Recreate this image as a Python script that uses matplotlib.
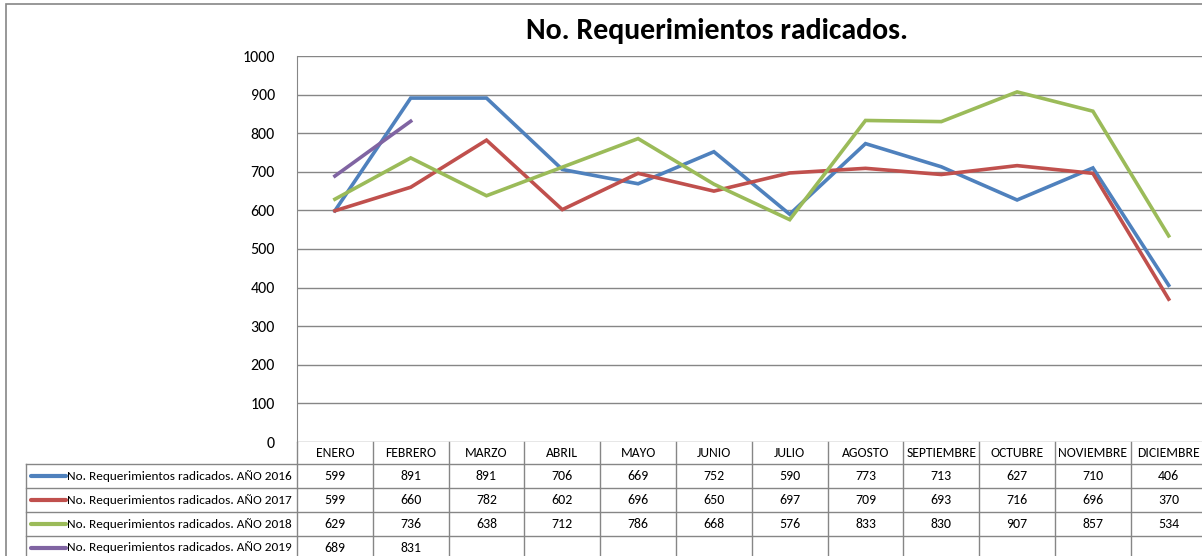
import matplotlib
matplotlib.use("Agg")
import matplotlib.pyplot as plt
from matplotlib.patches import Rectangle

plt.rcParams['font.family'] = ['Carlito', 'DejaVu Sans']

meses = ['ENERO', 'FEBRERO', 'MARZO', 'ABRIL', 'MAYO', 'JUNIO', 'JULIO',
         'AGOSTO', 'SEPTIEMBRE', 'OCTUBRE', 'NOVIEMBRE', 'DICIEMBRE']
v2016 = [599, 891, 891, 706, 669, 752, 590, 773, 713, 627, 710, 406]
v2017 = [599, 660, 782, 602, 696, 650, 697, 709, 693, 716, 696, 370]
v2018 = [629, 736, 638, 712, 786, 668, 576, 833, 830, 907, 857, 534]
v2019 = [689, 831]
nombres = ['No. Requerimientos radicados. AÑO 2016',
           'No. Requerimientos radicados. AÑO 2017',
           'No. Requerimientos radicados. AÑO 2018',
           'No. Requerimientos radicados. AÑO 2019']
colores = ['#4F81BD', '#C0504D', '#9BBB59', '#8064A2']
series = [v2016, v2017, v2018, v2019]

W, H = 1202, 556
fig = plt.figure(figsize=(W / 100, H / 100), dpi=100)

# plot area in pixels
px_l, px_t, px_b = 297, 56, 442
col_w = 75.8
px_r = px_l + col_w * len(meses)
ax = fig.add_axes([px_l / W, (H - px_b) / H, (px_r - px_l) / W, (px_b - px_t) / H])

gris = '#868686'
for s, c in zip(series, colores):
    ax.plot(range(len(s)), s, color=c, lw=2.6, solid_joinstyle='miter', zorder=3)

ax.set_xlim(-0.5, len(meses) - 0.5)
ax.set_ylim(0, 1000)
ax.set_yticks(range(0, 1001, 100))
ax.set_xticks([])
ax.yaxis.grid(True, color=gris, lw=1)
ax.set_axisbelow(True)
ax.tick_params(axis='y', length=0, pad=16, labelsize=11.5)
for k in ['top', 'right', 'bottom']:
    ax.spines[k].set_visible(False)
ax.spines['left'].set_color(gris)

# data table below the plot
tr = ax.get_xaxis_transform()
def fy(ypix):
    return (px_b - ypix) / (px_b - px_t)

rows = [442, 464, 488, 512, 536, 566]
x_tab = -0.5 - (px_l - 26) / col_w
for i in range(len(meses) + 1):
    ax.plot([i - 0.5, i - 0.5], [fy(rows[0]), fy(rows[-1])], transform=tr,
            color=gris, lw=1, clip_on=False)
ax.plot([x_tab, x_tab], [fy(rows[1]), fy(rows[-1])], transform=tr,
        color=gris, lw=1, clip_on=False)
for y in rows[1:-1]:
    ax.plot([x_tab, len(meses) - 0.5], [fy(y), fy(y)], transform=tr,
            color=gris, lw=1, clip_on=False)

for i, m in enumerate(meses):
    ax.text(i, fy((rows[0] + rows[1]) / 2), m, transform=tr, ha='center',
            va='center', fontsize=9.8, clip_on=False)
for r, (s, c, n) in enumerate(zip(series, colores, nombres)):
    yc = fy((rows[r + 1] + rows[r + 2]) / 2) if r < 3 else fy((rows[4] + 559) / 2)
    for i, v in enumerate(s):
        ax.text(i, yc, str(v), transform=tr, ha='center', va='center',
                fontsize=10, clip_on=False)
    ax.plot([x_tab + 5 / col_w, x_tab + 40 / col_w], [yc, yc], transform=tr,
            color=c, lw=3, clip_on=False, solid_capstyle='round')
    ax.text(x_tab + 41 / col_w, yc, n, transform=tr, ha='left', va='center',
            fontsize=9.5, clip_on=False)

fig.text(717 / W, 1 - 31 / H, 'No. Requerimientos radicados.', ha='center',
         va='center', fontsize=21.5, fontweight='bold')

fig.patches.append(Rectangle((6 / W, -0.1), 1.1, 1 - 4 / H + 0.1,
                             transform=fig.transFigure, fill=False,
                             edgecolor=gris, lw=1.2))

fig.savefig('out.png', dpi=100)
